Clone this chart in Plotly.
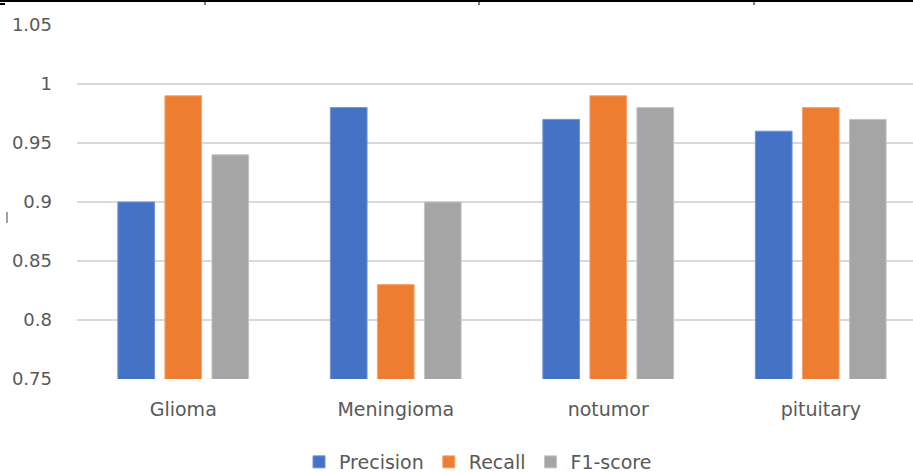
import plotly.graph_objects as go

categories = ["Glioma", "Meningioma", "notumor", "pituitary"]
precision = [0.90, 0.98, 0.97, 0.96]
recall = [0.99, 0.83, 0.99, 0.98]
f1_score = [0.94, 0.90, 0.98, 0.97]

y_ticks = [0.75, 0.8, 0.85, 0.9, 0.95, 1.0, 1.05]
y_tick_labels = ["0.75", "0.8", "0.85", "0.9", "0.95", "1", "1.05"]

series = [
    ("Precision", precision, "#4472C4", "#6f93d6"),
    ("Recall", recall, "#ED7D31", "#f5a46f"),
    ("F1-score", f1_score, "#A5A5A5", "#c4c4c4"),
]

W, H = 913, 473
left, right, top, bottom = 77, 0, 25, 94
plot_h = H - top - bottom
plot_w = W - left


def px_x(px):
    return (px - left) / plot_w


def px_y(py):
    return (H - bottom - py) / plot_h


fig = go.Figure()
for name, vals, color, edge in series:
    fig.add_trace(go.Bar(
        name=name, x=categories, y=vals,
        marker=dict(color=color, line=dict(color=edge, width=1)),
    ))

font_family = "DejaVu Sans, sans-serif"
text_color = "#595959"

fig.update_layout(
    width=W, height=H,
    margin=dict(l=left, r=right, t=top, b=bottom, pad=0, autoexpand=False),
    paper_bgcolor="white", plot_bgcolor="white",
    barmode="group", bargap=0.336, bargroupgap=0.22,
    font=dict(family=font_family, size=19, color=text_color),
    legend=dict(
        orientation="h",
        xref="container", x=478 / W, xanchor="center",
        yref="container", y=1 - 462 / H, yanchor="middle",
        font=dict(size=19, color=text_color),
        itemwidth=30, tracegroupgap=0,
    ),
    xaxis=dict(
        range=[-0.5, -0.5 + plot_w / 212.5],
        showgrid=False, zeroline=False, showline=False, ticks="",
        tickfont=dict(size=19, color=text_color),
        ticklabelstandoff=17,
    ),
    yaxis=dict(
        range=[0.75, 1.05], tickvals=y_ticks, ticktext=y_tick_labels,
        showgrid=True, gridcolor="#d9d9d9", gridwidth=1.5,
        zeroline=False, showline=False, ticks="",
        tickfont=dict(size=18, color=text_color),
        ticklabelstandoff=24,
    ),
    showlegend=True,
)

# page border line above the chart with its small column ticks
fig.add_shape(type="line", xref="paper", yref="paper",
              x0=px_x(0), x1=1.0, y0=px_y(1), y1=px_y(1),
              line=dict(color="black", width=2))
for px in (205, 479, 754):
    fig.add_shape(type="line", xref="paper", yref="paper",
                  x0=px_x(px), x1=px_x(px), y0=px_y(1), y1=px_y(5),
                  line=dict(color="black", width=1))
fig.add_shape(type="line", xref="paper", yref="paper",
              x0=px_x(0), x1=px_x(5), y0=px_y(4), y1=px_y(4),
              line=dict(color="black", width=2))
fig.add_shape(type="line", xref="paper", yref="paper",
              x0=px_x(7), x1=px_x(7), y0=px_y(212), y1=px_y(223),
              line=dict(color="#444444", width=1))

fig.write_html("out.html")
